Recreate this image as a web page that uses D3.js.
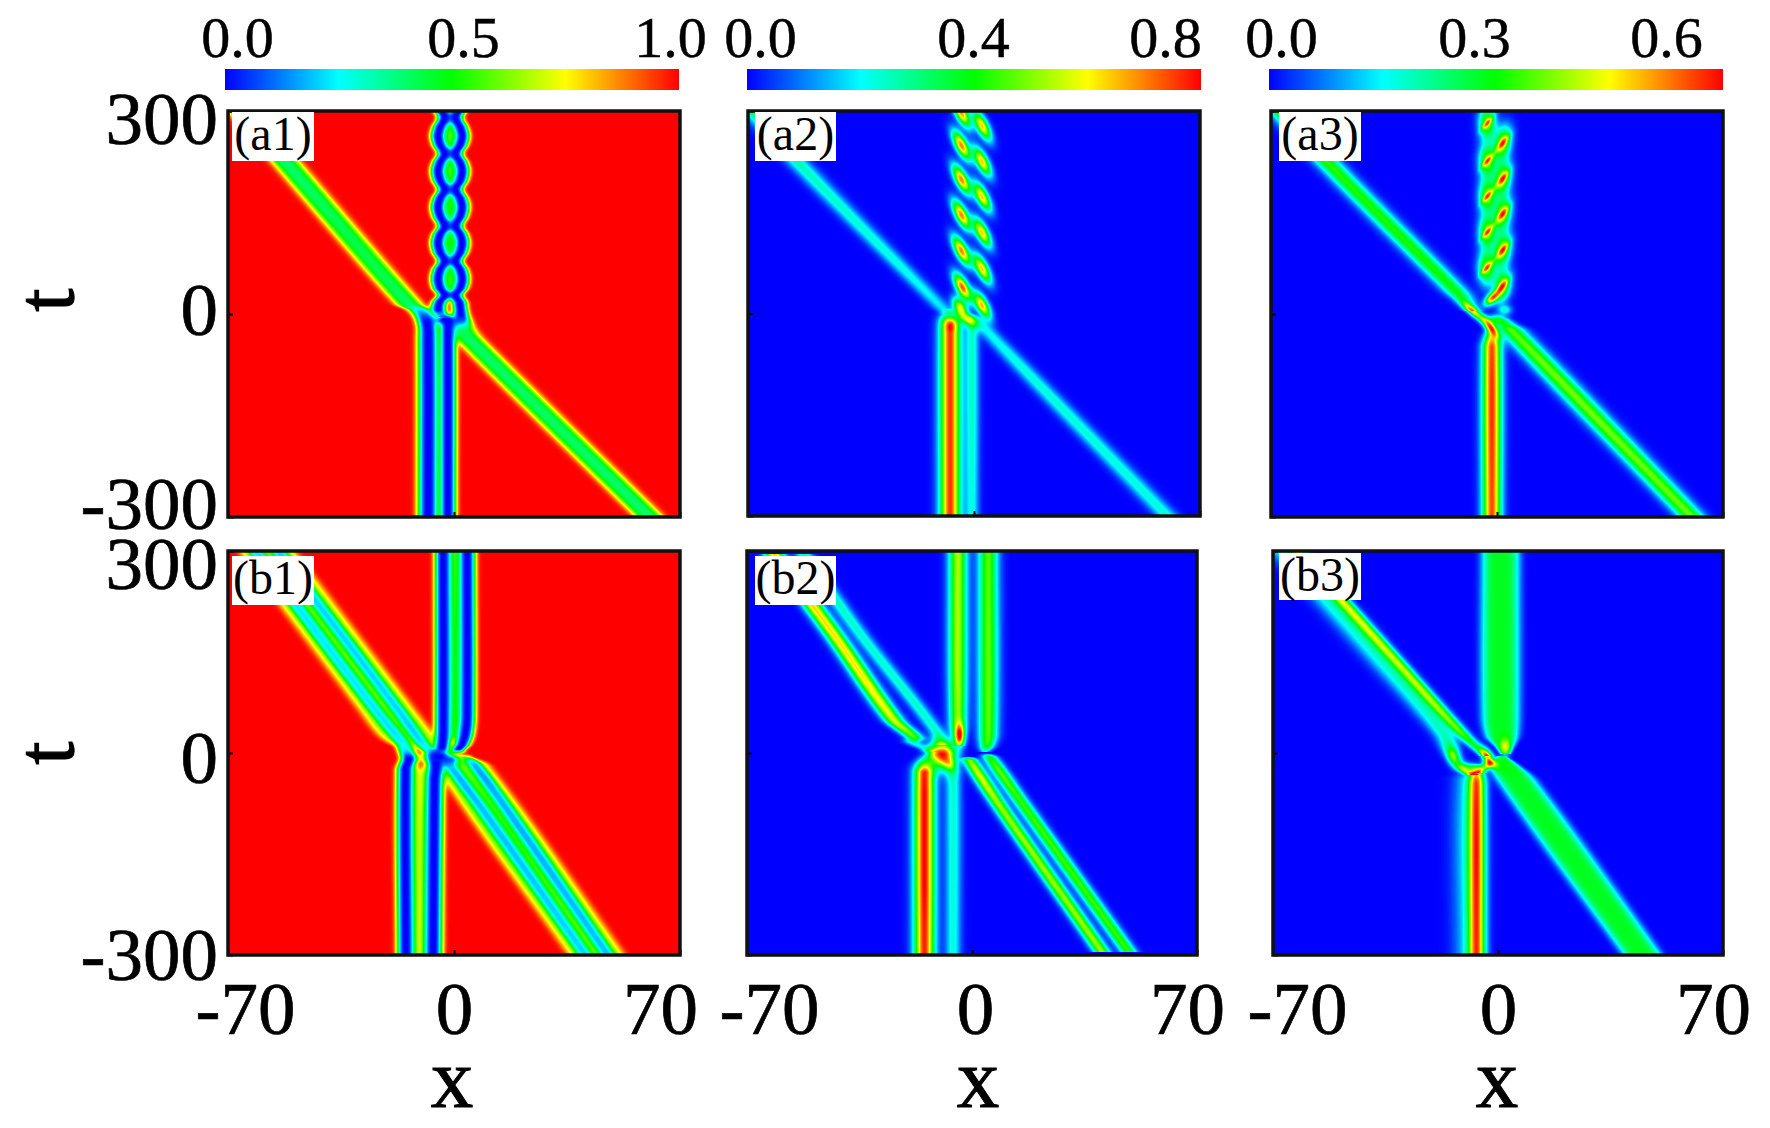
<!DOCTYPE html>
<html><head><meta charset="utf-8">
<script src="https://cdn.jsdelivr.net/npm/d3@7"></script>
<style>html,body{margin:0;background:#fff}svg{display:block;font-family:"Liberation Serif",serif}</style>
</head><body><svg id="c" width="1770" height="1128"></svg>
<script>
// ---- values. Ridge rows: [t, x, width, amplitude, (shape)]; blob rows: [t, x, tWidth, xWidth, amplitude, tilt]
const xTicks=[-70,0,70], tTicks=[-300,0,300];
const colorStops=[0,.25,.5,.75,1];
const colorNames=["#0000ff","#00ffff","#00ff00","#ffff00","#ff0000"];
const barTicks=[[0,.5,1],[0,.4,.8],[0,.3,.6]];
const barMax=[1,.8,.6];
const panelLabels=["(a1)","(a2)","(a3)","(b1)","(b2)","(b3)"];

const a1Ridges=[
 [[-300,-8,3.3,1],[-40,-8,3.3,1],[-12,-8.4,3.2,1],[5,-10.4,3.6,.8],[15,-14,4.2,.6],[226,-52.4,4.4,.6],[300,-65.8,4.4,.6]],
 [[-300,-1.9,2.6,1],[-25,-1.9,2.6,1],[-8,-2,2.2,.9],[0,-3,1.5,0]],
 [[-300,60.6,4.4,.6],[-41,5.5,4.4,.6],[-22,2.6,4,.62],[-6,2.2,2.8,.95],[6,2,2.4,1],[18,1.6,2.4,1],[28,.5,2.4,1],[38,1.9,2.4,1],[52,2.5,2.4,1],[66,1.9,2.4,1],[78,.5,2.4,1],[91,1.9,2.4,1],[105,2.5,2.4,1],[118,1.9,2.4,1],[130,.5,2.4,1],[144,1.9,2.4,1],[158,2.5,2.4,1],[171,1.9,2.4,1],[184,.5,2.4,1],[197,1.9,2.4,1],[211,2.5,2.4,1],[224,1.9,2.4,1],[237,.5,2.4,1],[250,1.9,2.4,1],[263,2.5,2.4,1],[276,1.9,2.4,1],[290,.5,2.4,1],[300,1.4,2.4,1]],
 [[-5,-3.4,2,.6],[6,-4.8,2.4,1],[18,-4.4,2.4,1],[28,-2.9,2.4,1],[38,-4.3,2.4,1],[52,-4.9,2.4,1],[66,-4.3,2.4,1],[78,-2.9,2.4,1],[91,-4.3,2.4,1],[105,-4.9,2.4,1],[118,-4.3,2.4,1],[130,-2.9,2.4,1],[144,-4.3,2.4,1],[158,-4.9,2.4,1],[171,-4.3,2.4,1],[184,-2.9,2.4,1],[197,-4.3,2.4,1],[211,-4.9,2.4,1],[224,-4.3,2.4,1],[237,-2.9,2.4,1],[250,-4.3,2.4,1],[263,-4.9,2.4,1],[276,-4.3,2.4,1],[290,-2.9,2.4,1],[300,-3.8,2.4,1]],
 [[16,-1.2,1.9,0],[28,-1.2,1.9,.4],[300,-1.2,1.9,.4]]
];
const a1Blobs=[[-9,-2.7,8,4.5,1,0]];

const a2Ridges=[
 [[-300,-7.4,3.1,.95],[-30,-7.4,3.1,.95],[-15,-7.4,3,.95],[-3,-7.8,2.8,.4],[8,-8,2.4,0]],
 [[-300,-.6,2,.27],[-30,-.6,2,.3],[-8,-.8,1.8,.2],[2,-1,1.5,0]],
 [[0,-8,2.6,.1],[9,-10,2.8,.23],[225,-54.8,3.5,.33],[300,-68.4,3.5,.42]],
 [[-300,59.9,3.4,.29],[-12,1.2,2.8,.24],[0,-.5,1.8,0]]
];
const a2Blobs=[
 [297,-3.9,21,2,.85,-.09],[249,-3.9,21,2,.88,-.09],[198.5,-3.9,21,2,.88,-.09],[146,-3.9,21,2,.88,-.09],[93,-3.9,21,2,.88,-.09],[39,-3.6,20,2,.92,-.09],
 [9,-4.3,14,2,.72,-.08],[-8,-2.3,10,2.4,.42,-.15],
 [278,2.5,21,2,.8,-.09],[225,2.5,21,2,.8,-.09],[173,2.5,21,2,.8,-.09],[120,2.5,21,2,.8,-.09],[66.5,2.5,21,2,.8,-.09],[12,2.5,19,2,.82,-.09]
];

const a3Ridges=[
 [[-300,-1.6,2.8,.93],[-50,-1.6,2.8,.93],[-35,-1.6,2.4,.72],[-22,-1.9,1.8,.2],[-12,-2,1.5,0]],
 [[5,-7.5,2.6,.2],[20,-10,3.2,.4],[35,-13,3.7,.5],[226.5,-53,3.9,.54],[298,-66.4,3.9,.6]],
 [[-298,60,4,.6],[-24,4.5,4,.58],[-15,3,3,.4],[-5,2,2,0]]
];
const a3Blobs=[
 [282,-3,24,2.6,.6,0],[226,-3,24,2.6,.6,0],[174,-3,24,2.6,.6,0],[121,-3,24,2.6,.6,0],[68,-3.2,24,2.6,.6,0],
 [282,-3,10,1,.36,.16],[226,-3,10,1,.36,.16],[174,-3,10,1,.36,.16],[121,-3,10,1,.36,.16],[68,-3.2,10,1,.36,.16],
 [23,-1.6,10,1.8,.78,.12],
 [252.6,1.8,24,2.5,.65,.03],[200,1.8,24,2.5,.65,.03],[148,1.8,24,2.5,.65,.03],[94.5,1.8,24,2.5,.65,.03],[41,1.7,22,2.5,.65,.03],
 [252.6,1.8,12,1.2,.35,.14],[200,1.8,12,1.2,.35,.14],[148,1.8,12,1.2,.35,.14],[94.5,1.8,12,1.2,.35,.14],[41,1.7,12,1.2,.35,.14],
 [6,2.5,7,2,.27,0],[3.4,-7.3,13,1.8,.72,-.21],[-19,-2.1,14,1.7,.75,-.14],[-8.6,-.1,7,3,.45,0]
];

const b1Ridges=[
 [[-300,-14.9,2.8,1],[-25,-15,2.8,1],[-8,-14,2.7,1],[5,-15,2.6,.75],[15,-16,2.4,.65],[64,-24.3,2.3,.62],[300,-61.5,2.3,.62]],
 [[-300,-6.5,2.9,1],[-40,-6,2.9,1],[-15,-5.6,2.9,1],[0,-6.5,2.6,.75],[9,-8.9,2.3,.68],[64,-17.3,2.3,.65],[300,-54.5,2.3,.65]],
 [[-300,-10.5,3.2,.25],[-30,-10.5,3,.25],[-15,-10.5,3,0]],
 [[-5,-5,2.6,.6],[8,-3.8,2.6,1],[30,-3.4,2.6,1],[300,-3.4,2.6,1]],
 [[-2,1,2,0],[5,1.3,2.2,.95],[12,2.4,2.5,1],[30,3.6,2.6,1],[60,4.1,2.6,1],[300,4.1,2.6,1]],
 [[15,.15,3,0],[30,.15,3,.4],[300,.15,3,.4]],
 [[-300,40.7,2.3,.65],[-85,9,2.3,.65],[-18,-1.2,2.2,.65],[-6,-2,1.9,.3],[0,-3,1.9,0]],
 [[-300,47.7,2.3,.68],[-70,14.4,2.3,.68],[-15,6,2.2,.68],[-6,4,1.9,.3],[-1,3,1.9,0]],
 [[-300,44.2,8.7,.4,6],[-18,2.4,8.5,.4,6],[-5,.5,6,0,6]],
 [[0,-9,5,0,6],[15,-12.5,8,.3,6],[30,-15.4,8.7,.4,6],[64,-20.8,8.7,.4,6],[149,-34.2,8.7,.4,6],[300,-58,8.7,.4,6]]
];
const b1Blobs=[[-6,-4.5,9,4.5,1,0],[-10,-1,6,3,.7,0]];

const b2Ridges=[
 [[-300,-14.8,3.1,.97],[-30,-14.8,3.1,.97],[-18,-14.8,3,.6],[-8,-14.8,2.4,.2],[-2,-14.8,2,0]],
 [[-300,-5.9,2.3,.28],[-30,-5.9,2.3,.3],[-18,-6.5,2,.3],[-6,-7.2,1.8,0]],
 [[10,-4,1.6,.25],[20,-4.2,1.9,.45],[45,-4.4,2.6,.63],[300,-4.4,2.8,.67]],
 [[2,4,1.6,.25],[10,4.6,2.3,.5],[30,5,2.9,.58],[300,5,3,.58]],
 [[2,-13,2,.12],[15,-18,2.6,.3],[23,-18,2.8,.55],[50,-24.5,3,.72],[176,-43,3,.78],[296,-61.7,3,.8]],
 [[12,-9.5,2.2,.25],[37,-11.8,2.5,.3],[176,-34.6,2.6,.3],[296,-52.4,2.6,.34]],
 [[-295,40.4,2.5,.65],[-85,9.6,2.5,.65],[-11,-.6,2.3,.62],[-5,-1,1.8,0]],
 [[-295,48.7,2.5,.55],[-70,14.9,2.5,.55],[-6.5,5.6,2.3,.5],[0,4.5,1.8,0]]
];
const b2Blobs=[[-3.7,-8.4,20,3.5,.9,0],[0,-12,14,2.8,.42,0],[26,-3.7,16,1.5,.55,0]];

const b3Ridges=[
 [[-300,-6.6,2.6,.88],[-50,-6.6,2.6,.86],[-33,-6.6,2.4,.72],[-22,-6.5,2,.3],[-15,-6.3,1.8,0]],
 [[-300,-10,4,.18],[-40,-10,4,.18],[-25,-10,3,0]],
 [[-5,-3.6,1.8,.25],[5,-6,2,.4],[37,-12.8,2.4,.58],[148,-33.7,2.4,.58],[300,-62.3,2.4,.62]],
 [[-33,-7.8,2,.45],[-23,-11.3,2.2,.42],[-4,-14,2.4,.45],[29,-17,3.4,.32],[148,-38,4.6,.3],[300,-66.5,4.6,.3]],
 [[-30,-6,1.8,.3],[-18,-3.4,1.8,.5],[-8,-3,1.2,0]],
 [[-2,2.4,1.5,.3,4],[10,2,3,.45,4],[25,1.2,5,.47,4],[60,.8,5.8,.47,4],[300,.8,5.8,.47,4]],
 [[-300,45,6,.47,4],[-41,5.8,6,.47,4],[-15,2,3.5,.47,4],[-5,1,1.5,.3,4]]
];
const b3Blobs=[[-8,-3,14,1.8,.8,-.1],[6.6,2.2,14,1.6,.3,0],[-22,-9,7,3.5,.38,0],[-4,-14,12,1.8,.2,0]];

const panelRidges=[a1Ridges,a2Ridges,a3Ridges,b1Ridges,b2Ridges,b3Ridges];
const panelBlobs=[a1Blobs,a2Blobs,a3Blobs,b1Blobs,b2Blobs,b3Blobs];

// ---- layout (pixels)
const boxes=[[228,680,111,517],[748,1200,111,516],[1271,1723,111,517],[228,680,551,955],[747,1197,551,955],[1273,1723,551,955]];
const barBoxes=[[225,679],[747,1201],[1269,1723]];
const barLabelNudge=[[12,11,-9],[13,-1,-36],[12,-22,-57]];
const xLabelNudge=[[17,0,-20],[22,3,-10],[24,0,-10]];
const labelBoxes=[[232,112,82,49],[755,112,81,49],[1279,112,82,49],[232,556,82,49],[755,556,81,49],[1279,553,82,47]];

const svg=d3.select("#c");
const jet=d3.scaleLinear().domain(colorStops).range(colorNames).interpolate(d3.interpolateRgb).clamp(true);
const lut=d3.range(256).map(i=>d3.rgb(jet(i/255)));

function sampleRidge(rows,t){
  const n=rows.length;
  if(t<rows[0][0]||t>rows[n-1][0])return null;
  let i=d3.bisectRight(rows.map(r=>r[0]),t)-1; if(i>=n-1)i=n-2;
  const a=rows[i],b=rows[i+1],p=a.length>4?a[4]:0,h=b[0]-a[0],u=(t-a[0])/h;
  const prev=rows[Math.max(i-1,0)],next=rows[Math.min(i+2,n-1)];
  const hs=k=>{
    const m0=(b[k]-prev[k])/(b[0]-prev[0]),m1=(next[k]-a[k])/(next[0]-a[0]);
    const u2=u*u,u3=u2*u;
    return (2*u3-3*u2+1)*a[k]+(u3-2*u2+u)*h*m0+(-2*u3+3*u2)*b[k]+(u3-u2)*h*m1;
  };
  return {x:hs(1),s:Math.max(hs(2),.3),a:Math.max(0,Math.min(1,hs(3))),p};
}

function drawField(idx,xs,ys){
  const dark=idx===0||idx===3, defP=dark?3:2;
  const [x0,x1,y0,y1]=boxes[idx], W=x1-x0, H=y1-y0;
  const cv=document.createElement("canvas"); cv.width=W; cv.height=H;
  const ctx=cv.getContext("2d"), img=ctx.createImageData(W,H), D=img.data;
  const ridges=panelRidges[idx], blobs=panelBlobs[idx];
  for(let py=0;py<H;py++){
    const t=ys.invert(y0+py+.5);
    const active=ridges.map(r=>sampleRidge(r,t)).filter(Boolean);
    for(let px=0;px<W;px++){
      const x=xs.invert(x0+px+.5);
      let v=dark?1:0;
      for(const r of active){
        const g=r.a*Math.exp(-Math.pow(Math.abs(x-r.x)/r.s,r.p||defP));
        if(dark)v*=1-g; else v+=g;
      }
      for(const b of blobs){
        const dt=t-b[0]; if(Math.abs(dt)>b[2]*3)continue;
        const u=(x-b[1]-b[5]*dt)/b[3],w=dt/b[2];
        const g=b[4]*Math.exp(-(u*u+w*w));
        if(dark)v*=1-g; else v+=g;
      }
      const c=lut[Math.max(0,Math.min(255,Math.round(v*255)))],o=(py*W+px)*4;
      D[o]=c.r;D[o+1]=c.g;D[o+2]=c.b;D[o+3]=255;
    }
  }
  ctx.putImageData(img,0,0);
  return cv.toDataURL("image/png");
}

const defs=svg.append("defs");
const grad=defs.append("linearGradient").attr("id","jet");
grad.selectAll("stop").data(colorStops).join("stop").attr("offset",d=>d).attr("stop-color",d=>jet(d));

// colour bars
barBoxes.forEach((b,i)=>{
  svg.append("rect").attr("x",b[0]).attr("y",69).attr("width",b[1]-b[0]).attr("height",21).attr("fill","url(#jet)");
  const s=d3.scaleLinear().domain([0,barMax[i]]).range(b);
  const g=svg.append("g").attr("transform","translate(0,69)").call(d3.axisTop(s).tickValues(barTicks[i]).tickSize(0).tickFormat(d3.format(".1f")));
  g.select(".domain").remove();
  g.selectAll("text").attr("fill","#000").attr("font-family","Liberation Serif").attr("font-size",58)
    .attr("stroke","#000").attr("stroke-width",.5)
    .attr("y",-12).attr("dy",0).attr("x",(d,j)=>barLabelNudge[i][j]).attr("text-anchor","middle");
});

// panels
boxes.forEach((b,i)=>{
  const [x0,x1,y0,y1]=b;
  const xs=d3.scaleLinear().domain(d3.extent(xTicks)).range([x0,x1]);
  const ys=d3.scaleLinear().domain(d3.extent(tTicks)).range([y1,y0]);
  svg.append("image").attr("x",x0).attr("y",y0).attr("width",x1-x0).attr("height",y1-y0)
    .attr("preserveAspectRatio","none").attr("href",drawField(i,xs,ys));
  const col=i%3, bottom=i>=3;
  const ax=svg.append("g").attr("transform",`translate(0,${y1})`)
    .call(d3.axisBottom(xs).tickValues(xTicks).tickSizeInner(-5).tickSizeOuter(0).tickFormat(d=>bottom?String(d):""));
  ax.select(".domain").remove();
  ax.selectAll("line").attr("stroke","#000").attr("stroke-width",2);
  ax.selectAll("text").attr("fill","#000").attr("font-family","Liberation Serif").attr("font-size",75)
    .attr("stroke","#000").attr("stroke-width",.7)
    .attr("y",79).attr("dy",0).attr("x",(d,j)=>xLabelNudge[col][j]).attr("text-anchor","middle");
  const ay=svg.append("g").attr("transform",`translate(${x0},0)`)
    .call(d3.axisLeft(ys).tickValues(tTicks).tickSizeInner(-5).tickSizeOuter(0).tickFormat(d=>col===0?String(d):""));
  ay.select(".domain").remove();
  ay.selectAll("line").attr("stroke","#000").attr("stroke-width",2);
  const dyTop=bottom?[24.5,29,37]:[11,20,32];
  ay.selectAll("text").attr("fill","#000").attr("font-family","Liberation Serif").attr("font-size",75)
    .attr("stroke","#000").attr("stroke-width",.7)
    .attr("x",-10).attr("y",(d,j)=>dyTop[j]).attr("dy",0).attr("text-anchor","end");
  svg.append("rect").attr("x",x0).attr("y",y0).attr("width",x1-x0).attr("height",y1-y0)
    .attr("fill","none").attr("stroke","#111").attr("stroke-width",3.5);
  const lb=labelBoxes[i];
  svg.append("rect").attr("x",lb[0]).attr("y",lb[1]).attr("width",lb[2]).attr("height",lb[3]).attr("fill","#fff");
  svg.append("text").attr("x",lb[0]+lb[2]/2).attr("y",lb[1]+38).attr("text-anchor","middle")
    .attr("font-size",48).attr("fill","#000").text(panelLabels[i]);
});

// axis titles
[300,753].forEach(y=>{
  svg.append("text").attr("transform",`translate(73,${y}) rotate(-90)`).attr("text-anchor","middle")
    .attr("font-size",82).attr("fill","#000").attr("stroke","#000").attr("stroke-width",1.4).text("t");
});
[452,978,1497].forEach(x=>{
  svg.append("text").attr("x",x).attr("y",1107).attr("text-anchor","middle").attr("font-size",85).attr("fill","#000")
    .attr("stroke","#000").attr("stroke-width",1).text("x");
});
</script></body></html>
